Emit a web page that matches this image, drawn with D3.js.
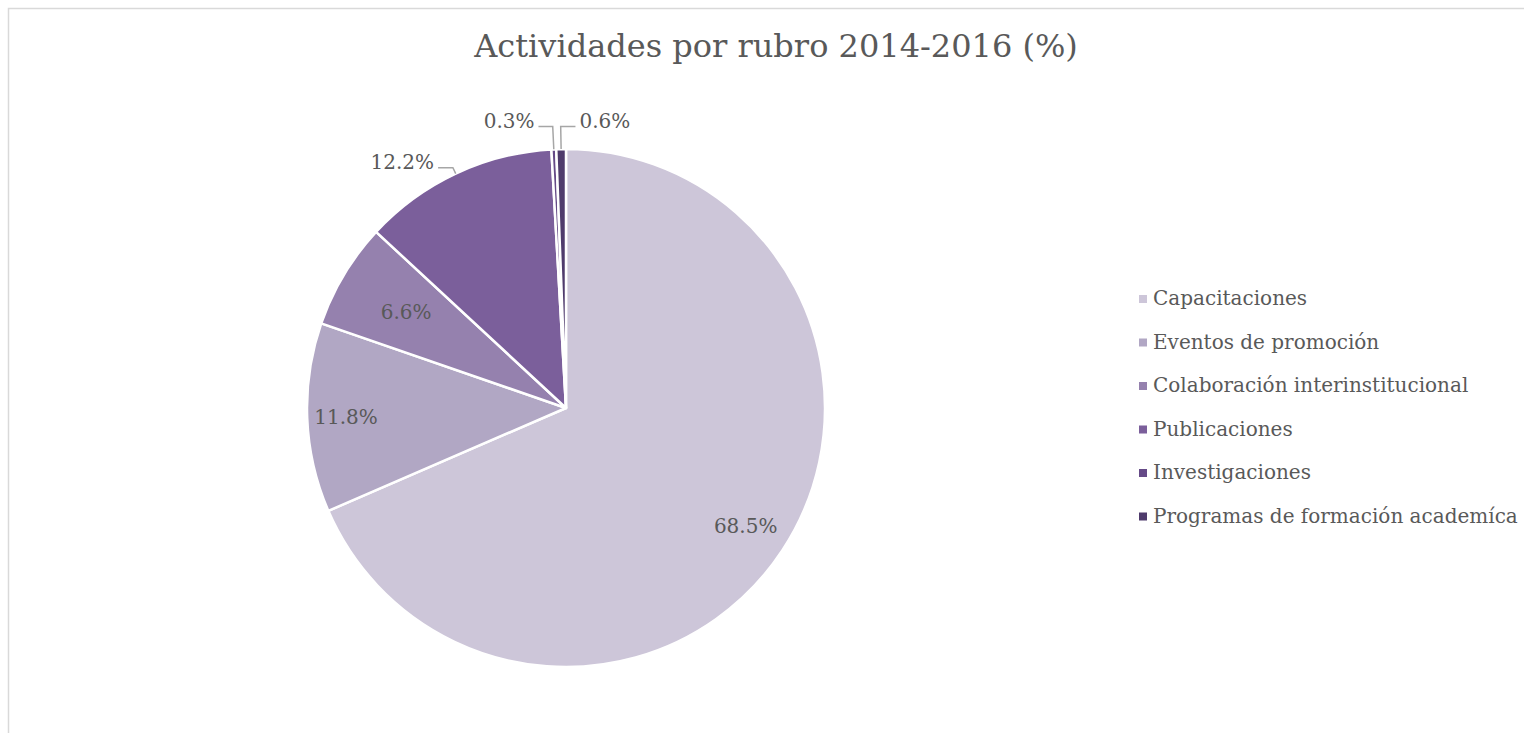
<!DOCTYPE html>
<html>
<head>
<meta charset="UTF-8">
<title>Actividades por rubro</title>
<style>
  body { margin: 0; background: #fff; }
  svg text { font-family: "DejaVu Serif", serif; fill: #595959; }
</style>
</head>
<body>
<div id="chart"></div>
<script src="https://cdn.jsdelivr.net/npm/d3@7"></script>
<script>
// datos
var categories = ["Capacitaciones", "Eventos de promoción", "Colaboración interinstitucional",
  "Publicaciones", "Investigaciones", "Programas de formación academíca"];
var values = [68.5, 11.8, 6.6, 12.2, 0.3, 0.6];
var title = "Actividades por rubro 2014-2016 (%)";

var colors = ["#cdc6d9", "#b1a7c4", "#9581ae", "#7b5f9b", "#654a87", "#4f3b6c"];

// posición de las etiquetas (factor del radio, o polar para las de fuera)
var labelLayout = [
  { inside: true, k: 0.83 },
  { inside: true, k: 0.85 },
  { inside: true, k: 0.72 },
  { inside: false, angle: 326.4, k: 1.142 },
  { inside: false, angle: 348.8, k: 1.132 },
  { inside: false, angle: 7.7, k: 1.12 }
];

var width = 1524, height = 733;
var cx = 566, cy = 408, r = 259;

var svg = d3.select("#chart").append("svg")
  .attr("width", width)
  .attr("height", height);

// marco
svg.append("rect")
  .attr("x", 8.5).attr("y", 8.5)
  .attr("width", 1560).attr("height", 760)
  .attr("fill", "none")
  .attr("stroke", "#d9d9d9")
  .attr("stroke-width", 1.5);

svg.append("text")
  .attr("x", 776).attr("y", 57)
  .attr("text-anchor", "middle")
  .attr("font-size", "32px")
  .text(title);

var data = categories.map(function(c, i) { return { name: c, value: values[i], i: i }; });

var pie = d3.pie().sort(null).value(function(d) { return d.value; });
var arcs = pie(data);
var arc = d3.arc().innerRadius(0).outerRadius(r);

var g = svg.append("g").attr("transform", "translate(" + cx + "," + cy + ")");

g.selectAll("path.slice")
  .data(arcs)
  .join("path")
  .attr("class", "slice")
  .attr("d", arc)
  .attr("fill", function(d) { return colors[d.data.i]; })
  .attr("stroke", "#fff")
  .attr("stroke-width", 2.5)
  .attr("stroke-linejoin", "round");

// etiquetas
arcs.forEach(function(d) {
  var lay = labelLayout[d.data.i];
  var txt = d.data.value.toFixed(1) + "%";
  var mid = (d.startAngle + d.endAngle) / 2;
  if (lay.inside) {
    var p = d3.pointRadial(mid, r * lay.k);
    g.append("text")
      .attr("x", p[0]).attr("y", p[1])
      .attr("dy", "0.36em")
      .attr("text-anchor", "middle")
      .attr("font-size", "20px")
      .text(txt);
  } else {
    var lp = d3.pointRadial(lay.angle * Math.PI / 180, r * lay.k);
    var t = g.append("text")
      .attr("x", lp[0]).attr("y", lp[1])
      .attr("dy", "0.36em")
      .attr("text-anchor", "middle")
      .attr("font-size", "20px")
      .text(txt);
    var w = t.node().getBBox().width;
    var a = d3.pointRadial(mid, r);
    var ly = lp[1] + 6;
    var dir = d3.pointRadial(mid, 1);
    var s = (ly - a[1]) / dir[1];
    var e = [a[0] + dir[0] * s, ly];
    var edgeX = lp[0] < e[0] ? lp[0] + w / 2 + 4 : lp[0] - w / 2 - 4;
    g.append("polyline")
      .attr("points", [[edgeX, ly], e, a].map(function(q) { return q.join(","); }).join(" "))
      .attr("fill", "none")
      .attr("stroke", "#a6a6a6")
      .attr("stroke-width", 1.5);
  }
});

// leyenda
var legend = svg.append("g").attr("transform", "translate(1139,299)");
var items = legend.selectAll("g")
  .data(data)
  .join("g")
  .attr("transform", function(d, i) { return "translate(0," + (i * 43.5) + ")"; });
items.append("rect")
  .attr("x", 0).attr("y", -4)
  .attr("width", 8).attr("height", 8)
  .attr("fill", function(d) { return colors[d.i]; });
items.append("text")
  .attr("x", 14).attr("y", 0)
  .attr("dy", "0.3em")
  .attr("font-size", "20px")
  .text(function(d) { return d.name; });
</script>
</body>
</html>
